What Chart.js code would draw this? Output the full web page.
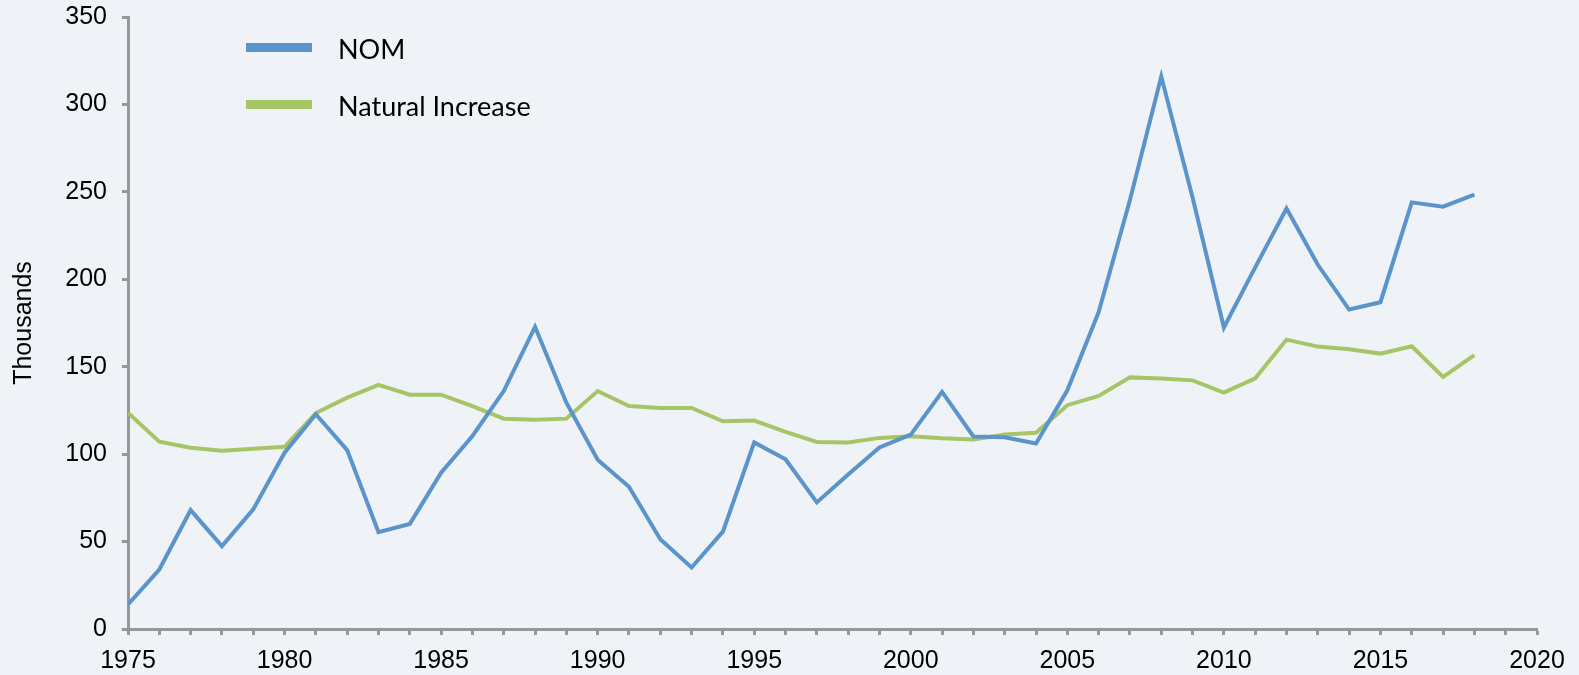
<!DOCTYPE html>
<html>
<head>
<meta charset="utf-8">
<script src="https://cdn.jsdelivr.net/npm/chart.js@4/dist/chart.umd.min.js"></script>
<style>
  html, body { margin: 0; padding: 0; background: #eff3f8; }
  #wrap { position: relative; width: 1579px; height: 675px; }
  #legend { position: absolute; left: 246px; top: 29px; font-family: Lato, "Noto Sans", sans-serif; font-size: 27px; color: #000; }
  .item { position: absolute; left: 0; white-space: nowrap; height: 30px; }
  .swatch { position: absolute; left: 0; top: 14px; width: 66px; height: 9px; }
  .label { position: absolute; left: 92px; top: 3px; }
</style>
</head>
<body>
<div id="wrap">
  <canvas id="chart" width="1579" height="675"></canvas>
  <div id="legend"></div>
</div>
<script>
// Data
const years = [1975, 1976, 1977, 1978, 1979, 1980, 1981, 1982, 1983, 1984,
    1985, 1986, 1987, 1988, 1989, 1990, 1991, 1992, 1993, 1994,
    1995, 1996, 1997, 1998, 1999, 2000, 2001, 2002, 2003, 2004,
    2005, 2006, 2007, 2008, 2009, 2010, 2011, 2012, 2013, 2014,
    2015, 2016, 2017, 2018];

const nom = [14, 34, 68, 47.4, 68.4, 100.8, 122.8, 102.3, 55.4, 60.1,
    89.4, 110.4, 136.1, 172.8, 129.4, 96.8, 81.3, 51.3, 35.2, 55.7,
    106.7, 97.1, 72.4, 88.4, 103.8, 111.2, 135.6, 110.1, 109.7, 106.1,
    136.5, 181.2, 245.3, 316, 246.8, 172.4, 206.8, 240.5, 208.3, 182.7,
    186.9, 244, 241.5, 248.4];

const naturalIncrease = [123.7, 107.1, 103.7, 101.9, 103.1, 104.2, 123.5, 132.3, 139.6, 134,
    134, 127.5, 120.3, 119.7, 120.3, 136.1, 127.5, 126.4, 126.4, 118.8,
    119.2, 112.7, 107, 106.7, 109.3, 110.3, 109.1, 108.4, 111.2, 112.2,
    128, 133.3, 143.9, 143.3, 142.2, 135.2, 143.4, 165.5, 161.5, 160,
    157.5, 161.7, 144.2, 156.6];

const seriesNames = ['NOM', 'Natural Increase'];
const seriesColors = ['#5a94cb', '#a7c567'];

const axisColor = '#979797';
const fontFamily = '"Liberation Sans", Arial, sans-serif';
const tickFont = { family: fontFamily, size: 25 };

function toPoints(values) {
    return years.map((y, i) => ({ x: y, y: values[i] }));
}

// Chart
const ctx = document.getElementById('chart').getContext('2d');
new Chart(ctx, {
    type: 'line',
    data: {
        datasets: [nom, naturalIncrease].map((vals, i) => ({
            label: seriesNames[i],
            data: toPoints(vals),
            borderColor: seriesColors[i],
            borderWidth: 4,
            pointRadius: 0,
            tension: 0
        }))
    },
    options: {
        responsive: false,
        animation: false,
        layout: { padding: { top: 17, right: 42, left: 0, bottom: 0 } },
        plugins: { legend: { display: false }, tooltip: { enabled: false } },
        scales: {
            x: {
                type: 'linear',
                min: 1975,
                max: 2020,
                afterFit: scale => { scale.height = 46; },
                ticks: {
                    stepSize: 1,
                    autoSkip: false,
                    maxRotation: 0,
                    padding: 11,
                    color: '#000',
                    font: tickFont,
                    callback: v => (v % 5 === 0 ? String(v) : '')
                },
                grid: { drawOnChartArea: false, drawTicks: true, tickLength: 6, tickColor: axisColor, tickWidth: 3 },
                border: { display: true, color: axisColor, width: 3 }
            },
            y: {
                min: 0,
                max: 350,
                afterFit: scale => { scale.width = 128; },
                ticks: { stepSize: 50, padding: 15, color: '#000', font: { family: fontFamily, size: 25, lineHeight: 0.12 } },
                grid: { drawOnChartArea: false, drawTicks: true, tickLength: 6, tickColor: axisColor, tickWidth: 3 },
                border: { display: true, color: axisColor, width: 3 },
                title: { display: true, text: 'Thousands', color: '#000', font: tickFont, padding: { top: 9, bottom: 0 } }
            }
        }
    }
});

// Legend
const legend = document.getElementById('legend');
seriesNames.forEach((name, i) => {
    const item = document.createElement('div');
    item.className = 'item';
    item.style.top = (i * 57) + 'px';
    item.innerHTML = '<span class="swatch" style="background:' + seriesColors[i] + '"></span><span class="label">' + name + '</span>';
    legend.appendChild(item);
});
</script>
</body>
</html>
